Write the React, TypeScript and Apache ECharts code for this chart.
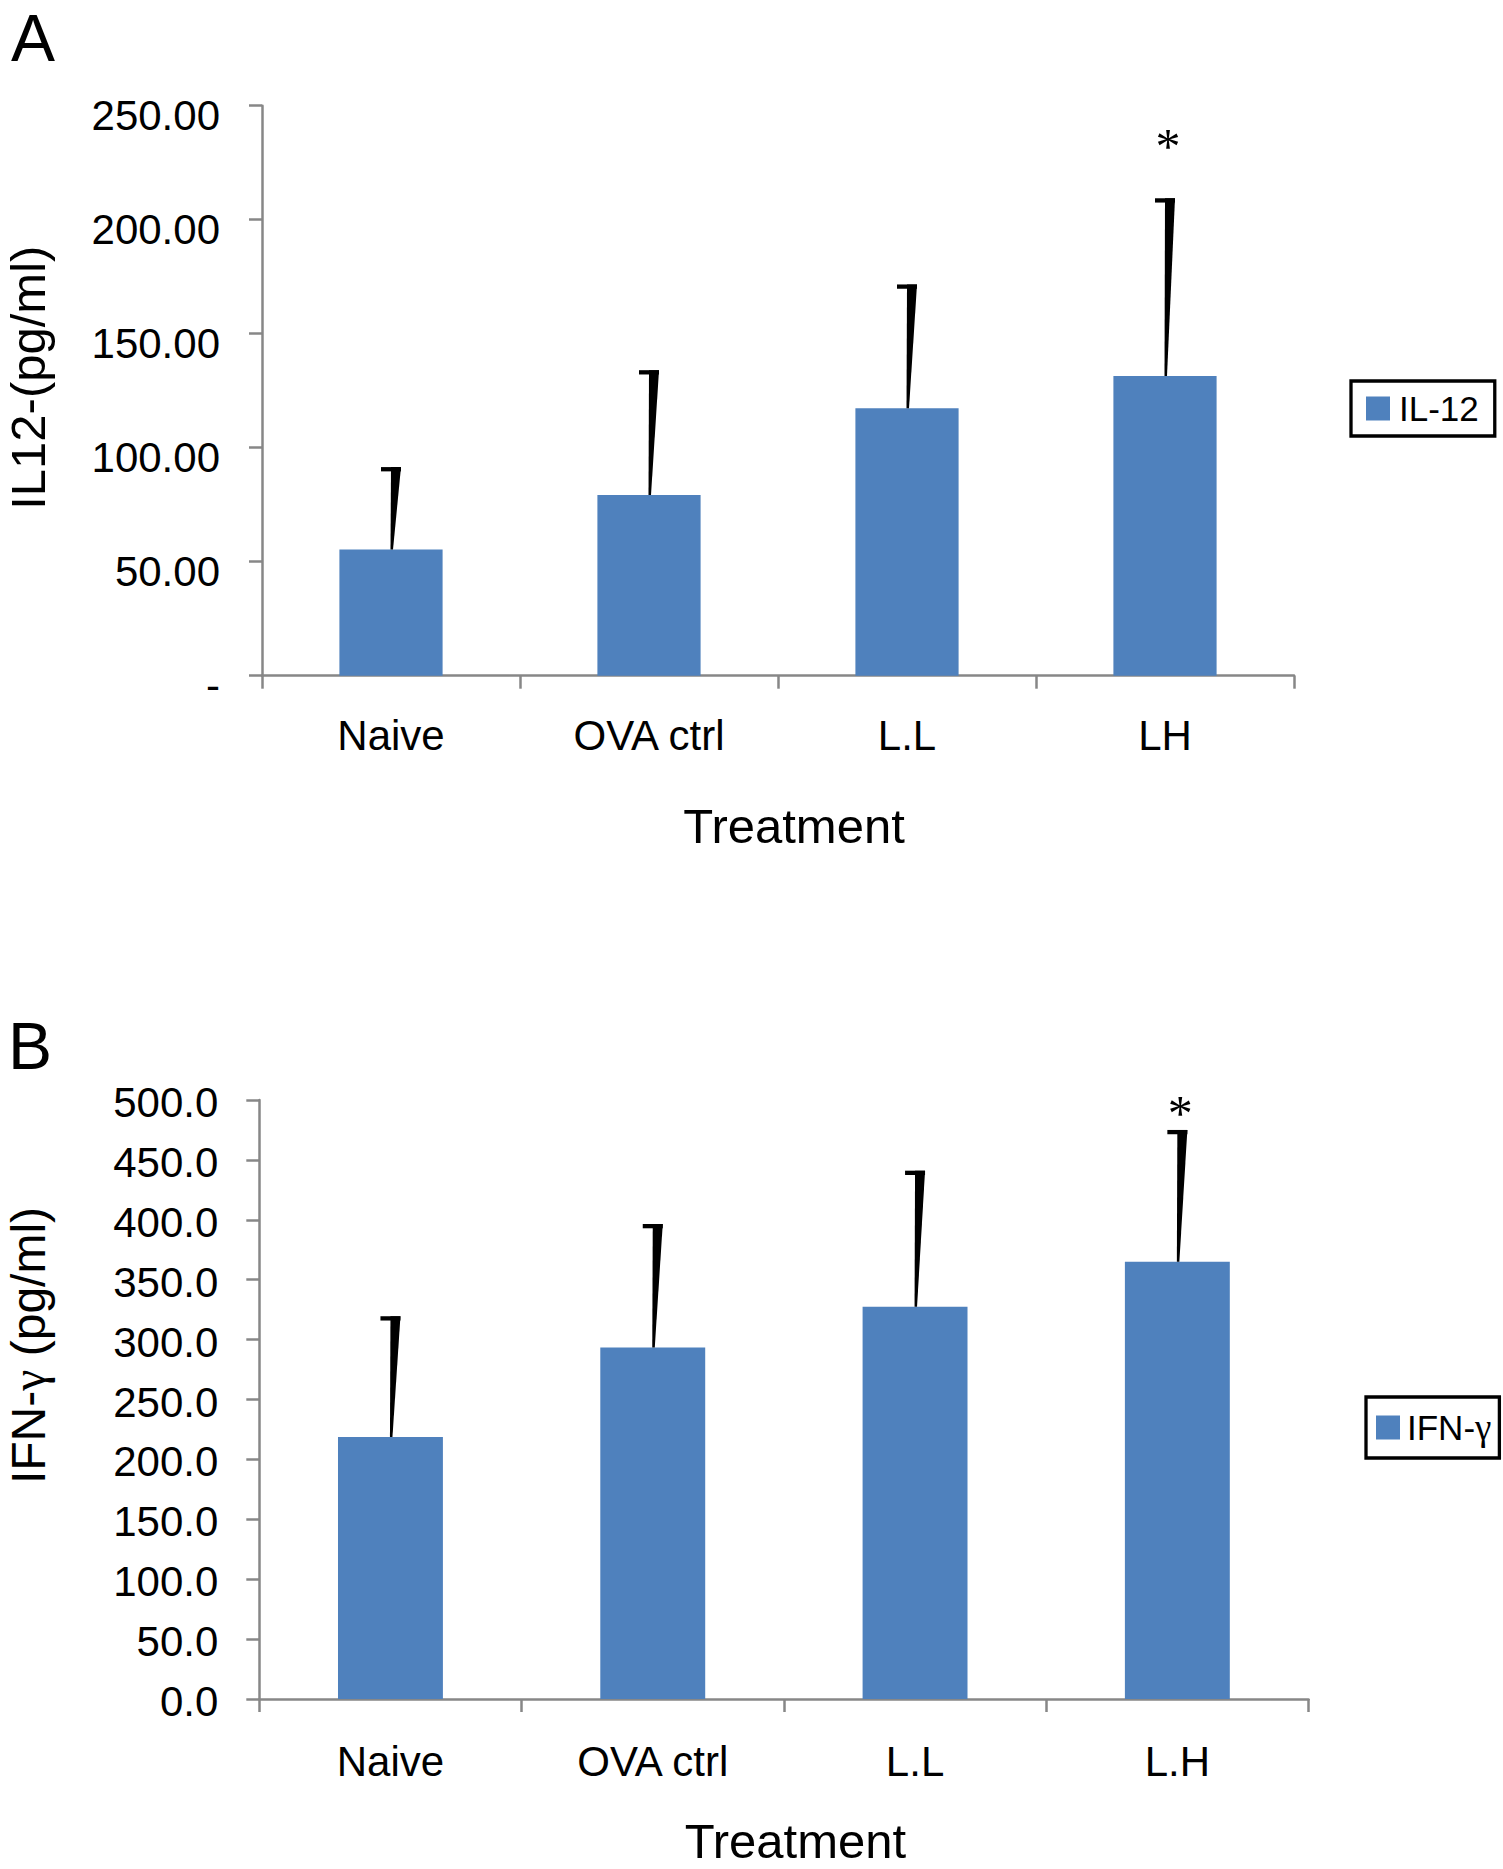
import React, { useEffect, useRef } from "react";
import * as echarts from "echarts";

const categoriesA = ["Naive", "OVA ctrl", "L.L", "LH"];
const categoriesB = ["Naive", "OVA ctrl", "L.L", "L.H"];
const il12Mean = [55.3, 79.2, 117.3, 131.4];
const il12ErrTop = [91.5, 134.0, 171.6, 209.4];
const il12Star = [null, null, null, 236];
const ifnMean = [218.6, 293.5, 327.5, 365.0];
const ifnErrTop = [319.5, 396.5, 441.0, 475.0];
const ifnStar = [null, null, null, 496];

const FONT = "'Liberation Sans', Arial, Helvetica, sans-serif";
const SERIF = "'Liberation Serif', 'Times New Roman', serif";
const BLUE = "#4F81BD";
const AXIS_GREY = "#878787";

function errRender(params: any, api: any) {
  const base = api.coord([api.value(0), api.value(1)]);
  const top = api.coord([api.value(0), api.value(2)]);
  const cx = base[0];
  return {
    type: "group",
    children: [
      {
        type: "polygon",
        shape: {
          points: [
            [cx - 0.5, base[1]],
            [cx + 2, base[1]],
            [cx + 10, top[1]],
            [cx, top[1]],
          ],
        },
        style: { fill: "#000" },
      },
      {
        type: "rect",
        shape: { x: cx - 10, y: top[1], width: 20, height: 4.3 },
        style: { fill: "#000" },
      },
    ],
  };
}

function starRender(params: any, api: any) {
  const v = api.value(1);
  if (v == null || isNaN(v)) return null;
  const p = api.coord([api.value(0), v]);
  return {
    type: "text",
    style: {
      x: p[0] + 3,
      y: p[1] + 8,
      text: "*",
      font: `50px ${SERIF}`,
      fill: "#000",
      align: "center",
      verticalAlign: "middle",
    },
  };
}

export default function App() {
  const ref = useRef<HTMLDivElement>(null);
  useEffect(() => {
    if (!ref.current) return;
    const chart = echarts.init(ref.current, null, { renderer: "svg" });

    const axisLine = { show: true, lineStyle: { color: AXIS_GREY, width: 2.5 } };
    const axisTick = { show: true, inside: false, length: 13, lineStyle: { color: AXIS_GREY, width: 2.5 } };

    const xAxisCommon = (
      data: string[],
      gridIndex: number,
      namePadLeft: number,
      margin: number,
      nameGap: number
    ) => ({
      type: "category",
      gridIndex,
      data,
      boundaryGap: true,
      axisLine,
      axisTick: { ...axisTick, alignWithLabel: false },
      axisLabel: { color: "#000", fontSize: 42, fontFamily: FONT, margin, interval: 0 },
      splitLine: { show: false },
      name: "Treatment",
      nameLocation: "middle",
      nameGap,
      nameTextStyle: { color: "#000", fontSize: 49, fontFamily: FONT, padding: [0, 0, 0, namePadLeft] },
    });

    const yLabel = (padTop: number, margin: number, fmt: (v: number) => string) => ({
      color: "#000",
      fontSize: 42,
      fontFamily: FONT,
      margin,
      formatter: (v: number) => `{v|${fmt(v)}}`,
      rich: { v: { color: "#000", fontSize: 42, fontFamily: FONT, padding: [padTop, 0, 0, 0] } },
    });

    const option: any = {
      animation: false,
      backgroundColor: "#ffffff",
      grid: [
        { left: 262, top: 105.7, width: 1032, height: 570, outerBoundsMode: "none", containLabel: false },
        { left: 259.3, top: 1100, width: 1049.2, height: 599, outerBoundsMode: "none", containLabel: false },
      ],
      xAxis: [xAxisCommon(categoriesA, 0, 32, 39, 126), xAxisCommon(categoriesB, 1, 23, 41, 117)],
      yAxis: [
        {
          type: "value",
          gridIndex: 0,
          min: 0,
          max: 250,
          interval: 50,
          axisLine,
          axisTick,
          splitLine: { show: false },
          axisLabel: yLabel(20, 42, (v) => (v === 0 ? "-" : v.toFixed(2))),
          name: "IL12-(pg/ml)",
          nameLocation: "middle",
          nameGap: 210,
          nameTextStyle: { color: "#000", fontSize: 49, fontFamily: FONT, padding: [0, 0, 0, 26] },
        },
        {
          type: "value",
          gridIndex: 1,
          min: 0,
          max: 500,
          interval: 50,
          axisLine,
          axisTick,
          splitLine: { show: false },
          axisLabel: yLabel(5, 41, (v) => v.toFixed(1)),
          name: "IFN-{g|γ} (pg/ml)",
          nameLocation: "middle",
          nameGap: 207,
          nameTextStyle: {
            color: "#000",
            fontSize: 48,
            fontFamily: FONT,
            padding: [0, 0, 0, 108],
            rich: { g: { fontSize: 48, fontFamily: SERIF, color: "#000" } },
          },
        },
      ],
      legend: [
        {
          data: ["IL-12"],
          left: 1351,
          top: 381,
          orient: "vertical",
          icon: "rect",
          itemWidth: 24,
          itemHeight: 24,
          borderColor: "#000",
          borderWidth: 3.3,
          padding: [10, 16, 10, 15],
          textStyle: { color: "#000", fontSize: 35, fontFamily: FONT, padding: [0, 0, 0, 4] },
        },
        {
          data: ["IFN-γ"],
          left: 1366,
          top: 1397,
          orient: "vertical",
          icon: "rect",
          itemWidth: 24,
          itemHeight: 24,
          borderColor: "#000",
          borderWidth: 3.3,
          padding: [12, 8, 12, 10],
          formatter: (n: string) => n.replace("γ", "{g|γ}"),
          textStyle: {
            color: "#000",
            fontSize: 35,
            fontFamily: FONT,
            padding: [0, 0, 0, 2],
            rich: { g: { fontSize: 37, fontFamily: SERIF, color: "#000" } },
          },
        },
      ],
      graphic: [
        {
          type: "text",
          left: 11,
          top: 5,
          style: { text: "A", font: `66px ${FONT}`, fill: "#000" },
        },
        {
          type: "text",
          left: 8,
          top: 1013,
          style: { text: "B", font: `66px ${FONT}`, fill: "#000" },
        },
      ],
      series: [
        {
          name: "IL-12",
          type: "bar",
          xAxisIndex: 0,
          yAxisIndex: 0,
          data: il12Mean,
          barWidth: "40%",
          itemStyle: { color: BLUE },
        },
        {
          type: "custom",
          xAxisIndex: 0,
          yAxisIndex: 0,
          renderItem: errRender,
          encode: { x: 0, y: [1, 2] },
          data: il12Mean.map((m, i) => [i, m, il12ErrTop[i]]),
          z: 3,
        },
        {
          type: "custom",
          xAxisIndex: 0,
          yAxisIndex: 0,
          renderItem: starRender,
          encode: { x: 0, y: 1 },
          data: il12Star.map((s, i) => [i, s == null ? NaN : s]),
          z: 4,
        },
        {
          name: "IFN-γ",
          type: "bar",
          xAxisIndex: 1,
          yAxisIndex: 1,
          data: ifnMean,
          barWidth: "40%",
          itemStyle: { color: BLUE },
        },
        {
          type: "custom",
          xAxisIndex: 1,
          yAxisIndex: 1,
          renderItem: errRender,
          encode: { x: 0, y: [1, 2] },
          data: ifnMean.map((m, i) => [i, m, ifnErrTop[i]]),
          z: 3,
        },
        {
          type: "custom",
          xAxisIndex: 1,
          yAxisIndex: 1,
          renderItem: starRender,
          encode: { x: 0, y: 1 },
          data: ifnStar.map((s, i) => [i, s == null ? NaN : s]),
          z: 4,
        },
      ],
    };

    chart.setOption(option);
    return () => chart.dispose();
  }, []);

  return (
    <div
      ref={ref}
      style={{ position: "absolute", left: 0, top: 0, width: 1503, height: 1869, background: "#fff" }}
    />
  );
}
